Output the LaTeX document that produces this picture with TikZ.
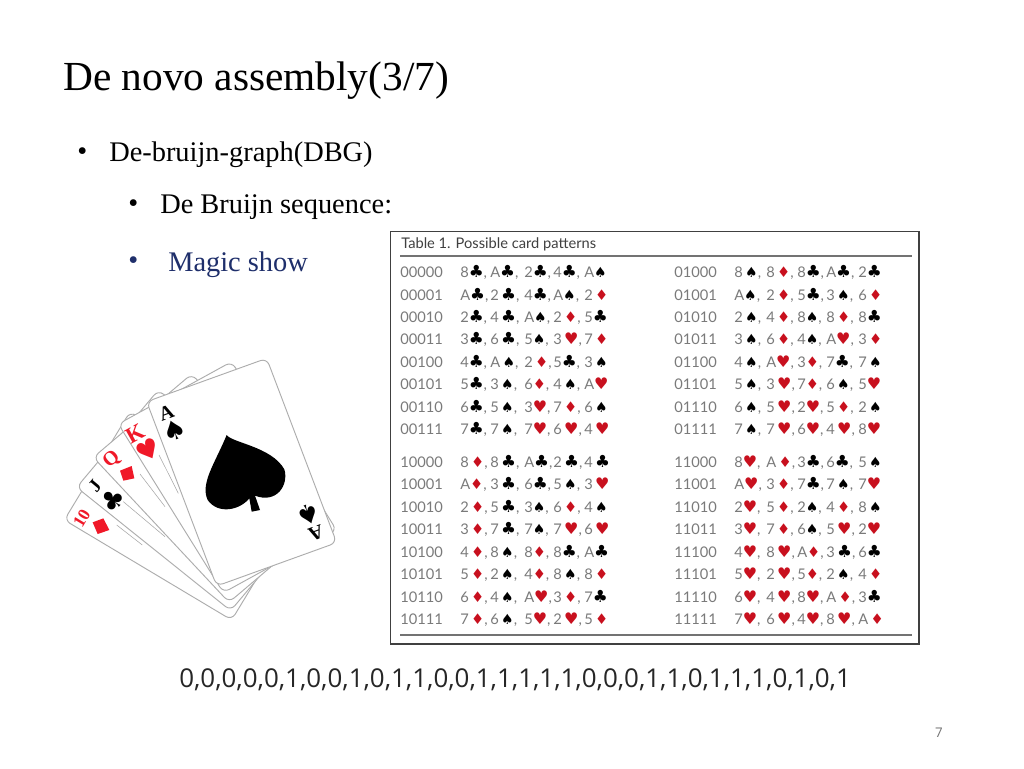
\documentclass[tikz,border=0pt]{standalone}
\usepackage{fontspec}
\setmainfont{Liberation Serif}
\newfontfamily\tabfont{Lato}
\newfontfamily\seqfont{Open Sans}
\newfontfamily\symfont{DejaVu Sans}
\definecolor{cardred}{HTML}{C8101E}
\definecolor{brightred}{HTML}{F01828}
\definecolor{tabgray}{HTML}{7A7A7A}
\definecolor{navy}{HTML}{1F2F6B}
\newcommand{\cC}{\smash{\raisebox{-.5pt}{\symfont\color{black}\fontsize{12.5pt}{10pt}\selectfont ♣}}}
\newcommand{\cS}{\smash{\raisebox{-.2pt}{\symfont\color{black}\fontsize{10.5pt}{10pt}\selectfont ♠}}}
\newcommand{\cD}{\smash{\raisebox{-.2pt}{\symfont\color{cardred}\fontsize{11pt}{10pt}\selectfont ♦}}}
\newcommand{\cH}{\smash{\raisebox{-.3pt}{\symfont\color{cardred}\fontsize{12pt}{10pt}\selectfont ♥}}}
\newcommand{\trow}[8]{%
  \node[tabtxt] at (#2,#1) {#3\vphantom{,}};
  \ifdim#2pt<500pt
    \node[tabtxt] at (460,#1) {#4,};
    \node[tabtxt] at (490,#1) {#5,};
    \node[tabtxt] at (524,#1) {#6,};
    \node[tabtxt] at (553,#1) {#7,};
    \node[tabtxt] at (584,#1) {#8\vphantom{,}};
  \else
    \node[tabtxt] at (734,#1) {#4,};
    \node[tabtxt] at (766,#1) {#5,};
    \node[tabtxt] at (797,#1) {#6,};
    \node[tabtxt] at (826,#1) {#7,};
    \node[tabtxt] at (858,#1) {#8\vphantom{,}};
  \fi}
\newcommand{\card}[6]{%
  \draw[cardline] (#1,#2) -- (#3,#4) -- ({#3+#5-#1},{#4+#6-#2}) -- (#5,#6) -- cycle;}
\tikzset{
  tabtxt/.style={anchor=west,inner sep=0pt,text=tabgray,font=\tabfont\fontsize{11pt}{12pt}\selectfont},
  cardline/.style={draw=black!32,fill=white,line width=.7pt,rounded corners=5pt},
  innerline/.style={draw=black!35,line width=.4pt},
  tablerule/.style={draw=black!55,line width=.9pt},
  slidetxt/.style={anchor=west,inner sep=0pt,font=\fontsize{21.3pt}{23pt}\selectfont}
}
\begin{document}
\begin{tikzpicture}[x=.75pt,y=-.75pt]
\useasboundingbox (0,0) rectangle (1024,768);
\fill[white] (0,0) rectangle (1024,768);
% slide texts
\node[anchor=west,inner sep=0pt,font=\fontsize{31pt}{33pt}\selectfont] (title) at (63,81) {De novo assembly(3/7)};
\node[slidetxt] (b1) at (77,154) {•};
\node[slidetxt] (t1) at (109,155) {De-bruijn-graph(DBG)};
\node[slidetxt] (b2) at (128,206) {•};
\node[slidetxt] (t2) at (160,207) {De Bruijn sequence:};
\node[slidetxt,text=navy] (b3) at (128,263) {•};
\node[slidetxt,text=navy] (t3) at (168,265) {Magic show};
\node[anchor=west,inner sep=0pt,text=black!85,font=\seqfont\fontsize{19.45pt}{20pt}\selectfont] (seq) at (179,680) {0,0,0,0,0,1,0,0,1,0,1,1,0,0,1,1,1,1,1,0,0,0,1,1,0,1,1,1,0,1,0,1};
\node[anchor=center,inner sep=0pt,text=black!55,font=\seqfont\fontsize{10pt}{12pt}\selectfont] (pg) at (939,733) {7};
% table
\draw[black!75,line width=1pt,fill=white] (390.5,231.5) rectangle (919,644);
\node[anchor=west,inner sep=0pt,text=black!75,font=\tabfont\fontsize{11pt}{12pt}\selectfont] (tt) at (401,244) {Table 1. Possible card patterns};
\draw[tablerule] (400,256) -- (912,256);
\draw[tablerule] (400,635) -- (912,635);
\trow{273}{400}{00000}{8\cC}{A\cC}{2\cC}{4\cC}{A\cS}
\trow{296}{400}{00001}{A\cC}{2\,\cC}{4\cC}{A\cS}{2\,\cD}
\trow{318}{400}{00010}{2\cC}{4\,\cC}{A\cS}{2\,\cD}{5\cC}
\trow{340}{400}{00011}{3\cC}{6\,\cC}{5\cS}{3\,\cH}{7\,\cD}
\trow{363}{400}{00100}{4\cC}{A\,\cS}{2\,\cD}{5\cC}{3\,\cS}
\trow{385}{400}{00101}{5\cC}{3\,\cS}{6\cD}{4\,\cS}{A\cH}
\trow{408}{400}{00110}{6\cC}{5\,\cS}{3\cH}{7\,\cD}{6\,\cS}
\trow{430}{400}{00111}{7\cC}{7\,\cS}{7\cH}{6\,\cH}{4\,\cH}
\trow{463}{400}{10000}{8\,\cD}{8\,\cC}{A\cC}{2\,\cC}{4\,\cC}
\trow{485}{400}{10001}{A\cD}{3\,\cC}{6\cC}{5\,\cS}{3\,\cH}
\trow{508}{400}{10010}{2\,\cD}{5\,\cC}{3\cS}{6\,\cD}{4\,\cS}
\trow{530}{400}{10011}{3\,\cD}{7\,\cC}{7\cS}{7\,\cH}{6\,\cH}
\trow{553}{400}{10100}{4\,\cD}{8\,\cS}{8\cD}{8\cC}{A\cC}
\trow{575}{400}{10101}{5\,\cD}{2\,\cS}{4\cD}{8\,\cS}{8\,\cD}
\trow{598}{400}{10110}{6\,\cD}{4\,\cS}{A\cH}{3\,\cD}{7\cC}
\trow{620}{400}{10111}{7\,\cD}{6\,\cS}{5\cH}{2\,\cH}{5\,\cD}
\trow{273}{674}{01000}{8\,\cS}{8\,\cD}{8\cC}{A\cC}{2\cC}
\trow{296}{674}{01001}{A\cS}{2\,\cD}{5\cC}{3\,\cS}{6\,\cD}
\trow{318}{674}{01010}{2\,\cS}{4\,\cD}{8\cS}{8\,\cD}{8\cC}
\trow{340}{674}{01011}{3\,\cS}{6\,\cD}{4\cS}{A\cH}{3\,\cD}
\trow{363}{674}{01100}{4\,\cS}{A\cH}{3\cD}{7\cC}{7\,\cS}
\trow{385}{674}{01101}{5\,\cS}{3\,\cH}{7\cD}{6\,\cS}{5\cH}
\trow{408}{674}{01110}{6\,\cS}{5\,\cH}{2\cH}{5\,\cD}{2\,\cS}
\trow{430}{674}{01111}{7\,\cS}{7\,\cH}{6\cH}{4\,\cH}{8\cH}
\trow{463}{674}{11000}{8\cH}{A\,\cD}{3\cC}{6\cC}{5\,\cS}
\trow{485}{674}{11001}{A\cH}{3\,\cD}{7\cC}{7\,\cS}{7\cH}
\trow{508}{674}{11010}{2\cH}{5\,\cD}{2\cS}{4\,\cD}{8\,\cS}
\trow{530}{674}{11011}{3\cH}{7\,\cD}{6\cS}{5\,\cH}{2\cH}
\trow{553}{674}{11100}{4\cH}{8\,\cH}{A\cD}{3\,\cC}{6\cC}
\trow{575}{674}{11101}{5\cH}{2\,\cH}{5\cD}{2\,\cS}{4\,\cD}
\trow{598}{674}{11110}{6\cH}{4\,\cH}{8\cH}{A\,\cD}{3\cC}
\trow{620}{674}{11111}{7\cH}{6\,\cH}{4\cH}{8\,\cH}{A\,\cD}
% cards, in units of the 3x crop at (55,350)
\begin{scope}[shift={(55,350)},x=.25pt,y=-.25pt]
\card{28}{510}{225}{185}{530}{810}
\draw[innerline] (185,525) -- (262,585);
\node[font=\bfseries\fontsize{13pt}{14pt}\selectfont,text=brightred,rotate=59,inner sep=0pt] (r10) at (80,505) {10};
\fill[brightred] (113,517) -- (145,505) -- (163,540) -- (128,552) -- cycle;
\card{65}{412}{310}{120}{527}{782}
\draw[innerline] (205,455) -- (330,560);
\node[font=\bfseries\fontsize{14pt}{14pt}\selectfont,rotate=50,inner sep=0pt] (rj) at (120,408) {J};
\node[font=\symfont\fontsize{20pt}{20pt}\selectfont,rotate=50,inner sep=0pt] (sj) at (172,450) {♣};
\card{115}{322}{410}{72}{522}{757}
\draw[innerline] (255,372) -- (330,470);
\node[font=\bfseries\fontsize{15pt}{14pt}\selectfont,text=brightred,rotate=41,inner sep=0pt] (rq) at (170,328) {Q};
\fill[brightred] (195,362) -- (230,348) -- (238,385) -- (205,392) -- cycle;
\card{190}{222}{530}{35}{505}{728}
\draw[innerline] (312,315) -- (370,430);
\node[font=\bfseries\fontsize{17pt}{15pt}\selectfont,text=brightred,rotate=29,inner sep=0pt] (rk) at (240,250) {K};
\node[font=\symfont\fontsize{20pt}{22pt}\selectfont,text=brightred,rotate=29,inner sep=0pt] (sk) at (280,300) {♥};
\card{275}{155}{635}{25}{485}{708}
\node[font=\bfseries\fontsize{15pt}{15pt}\selectfont,rotate=20,inner sep=0pt] (ra) at (334,188) {A};
\node[font=\symfont\fontsize{20pt}{20pt}\selectfont,rotate=20,inner sep=0pt] (sa) at (359,242) {♠};
\node[font=\bfseries\fontsize{15pt}{15pt}\selectfont,rotate=200,inner sep=0pt] (ra2) at (783,550) {A};
\node[font=\symfont\fontsize{20pt}{20pt}\selectfont,rotate=200,inner sep=0pt] (sa2) at (761,495) {♠};
\fill[black] (515,255) .. controls (530,278) and (650,290) .. (688,358)
  .. controls (702,405) and (665,462) .. (600,437) -- (615,480) -- (590,485) -- (583,445)
  .. controls (555,480) and (490,495) .. (458,450)
  .. controls (435,400) and (480,340) .. (515,255) -- cycle;
\end{scope}
\end{tikzpicture}
\end{document}
